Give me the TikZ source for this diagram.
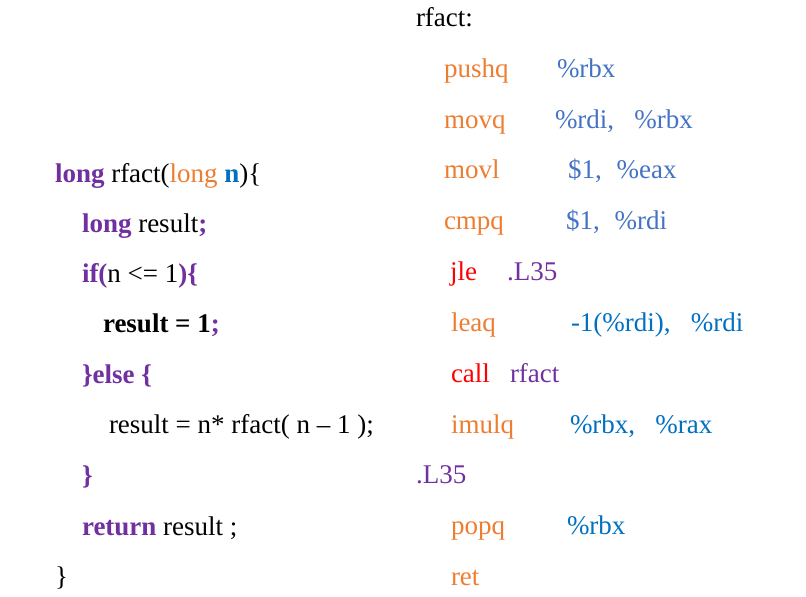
\documentclass[tikz,border=0pt]{standalone}
\usepackage{fontspec}
\setmainfont{Liberation Serif}
\definecolor{cpurple}{HTML}{7030A0}
\definecolor{corange}{HTML}{ED7D31}
\definecolor{cblueA}{HTML}{4472C4}
\definecolor{cblueB}{HTML}{0070C0}
\definecolor{cred}{HTML}{FF0000}
\newcommand{\kw}[1]{\textcolor{cpurple}{\textbf{#1}}}
\newcommand{\wcomma}{\makebox[1em][l]{,}}
\newcommand{\scomma}{\makebox[0.8em][l]{,}}
\begin{document}
\begin{tikzpicture}[x=1pt,y=-1pt,
  code/.style={anchor=base west,inner sep=0pt,outer sep=0pt,font=\fontsize{27}{30}\selectfont},
  op/.style={code,text=corange},
  arg/.style={code,text=cblueA},
  argb/.style={code,text=cblueB}]
\useasboundingbox (0,0) rectangle (806,597);
% C source
\node[code] (c1) at (55,182) {\kw{long} rfact(\textcolor{corange}{long} \textcolor{cblueB}{\textbf{n}})\{};
\node[code] (c2) at (82,232) {\kw{long} result\kw{;}};
\node[code] (c3) at (82,282) {\kw{if(}n <= 1\kw{)\{}};
\node[code] (c4) at (103,332) {\textbf{result = 1}\kw{;}};
\node[code] (c5) at (82,383) {\kw{\}else \{}};
\node[code] (c6) at (109,433) {result = n* rfact( n – 1 );};
\node[code] (c7) at (82,484) {\kw{\}}};
\node[code] (c8) at (82,535) {\kw{return} result ;};
\node[code] (c9) at (55,585) {\}};
% assembly
\node[code] (a0) at (416,26) {rfact:};
\node[op] (a1) at (444,77) {pushq};
\node[arg] (b1) at (557,77) {\%rbx};
\node[op] (a2) at (444,128) {movq};
\node[arg] (b2) at (555,128) {\%rdi\wcomma\%rbx};
\node[op] (a3) at (444,178) {movl};
\node[arg] (b3) at (568,178) {\$1\scomma\%eax};
\node[op] (a4) at (444,229) {cmpq};
\node[arg] (b4) at (566,229) {\$1\scomma\%rdi};
\node[code,text=cred] (a5) at (450,280) {jle};
\node[code,text=cpurple] (b5) at (507,280) {.L35};
\node[op] (a6) at (451,331) {leaq};
\node[argb] (b6) at (571,331) {-1(\%rdi)\wcomma\%rdi};
\node[code,text=cred] (a7) at (451,382) {call};
\node[code,text=cpurple] (b7) at (510,382) {rfact};
\node[op] (a8) at (451,433) {imulq};
\node[argb] (b8) at (570,433) {\%rbx\wcomma\%rax};
\node[code,text=cpurple] (a9) at (416,483) {.L35};
\node[op] (a10) at (451,534) {popq};
\node[argb] (b10) at (567,534) {\%rbx};
\node[op] (a11) at (451,585) {ret};
\end{tikzpicture}
\end{document}
